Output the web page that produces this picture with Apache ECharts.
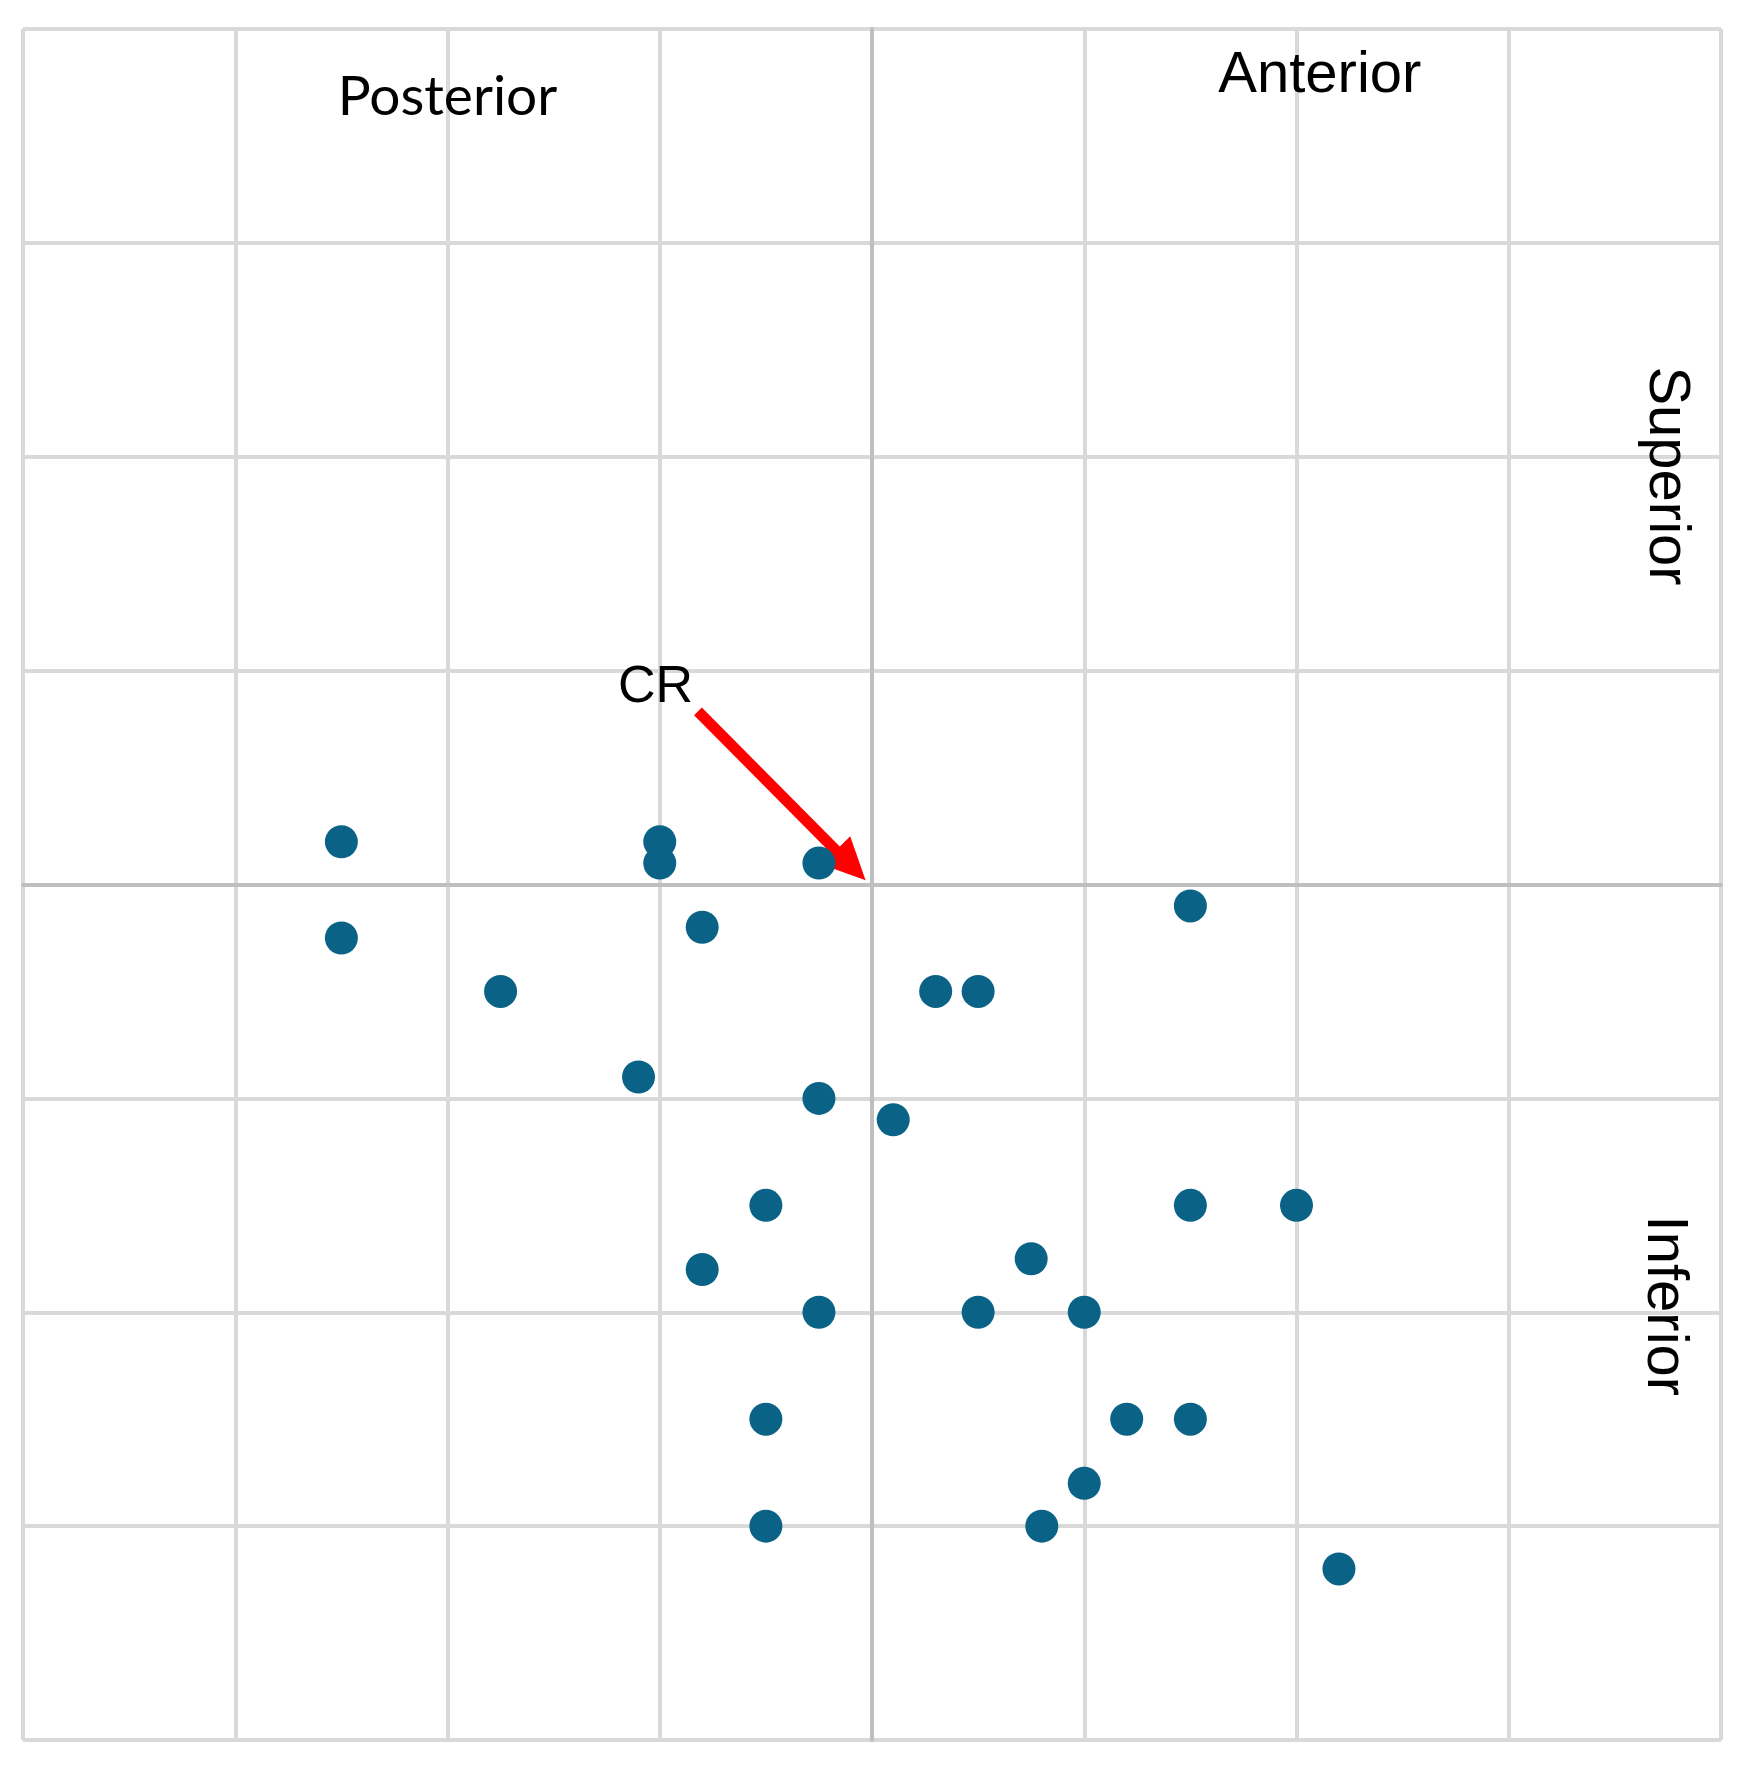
<!DOCTYPE html>
<html>
<head>
<meta charset="utf-8">
<script src="https://cdn.jsdelivr.net/npm/echarts@6/dist/echarts.min.js"></script>
<style>
html,body{margin:0;padding:0;background:#fff;}
#chart{width:1750px;height:1768px;}
</style>
</head>
<body>
<div id="chart"></div>
<script>
// Displacement points (x: posterior(-) / anterior(+), y: inferior(-) / superior(+))
const xValues = [-2.5, -1.0, -1.0, -0.25, -2.5, -0.8, -1.75, 0.3, 0.5, 1.5, -1.1, -0.25, 0.1, -0.5, 1.5, 2.0, -0.8, 0.75, -0.25, 0.5, 1.0, -0.5, 1.2, 1.5, 1.0, -0.5, 0.8, 2.2];
const yValues = [0.2, 0.2, 0.1, 0.1, -0.25, -0.2, -0.5, -0.5, -0.5, -0.1, -0.9, -1.0, -1.1, -1.5, -1.5, -1.5, -1.8, -1.75, -2.0, -2.0, -2.0, -2.5, -2.5, -2.5, -2.8, -3.0, -3.0, -3.2];

// Axis range
const axisMin = -4;
const axisMax = 4;
const axisStep = 1;

// Annotation texts and their anchor positions (data units)
const labelTexts = ['Posterior', 'Anterior', 'Superior', 'Inferior', 'CR'];
const labelX = [-2.0, 2.11, 3.74, 3.73, -1.02];
const labelY = [3.68, 3.78, 1.91, -1.97, 0.92];

// CR arrow (data units)
const arrowFrom = [-0.82, 0.81];
const arrowTo = [-0.1, 0.09];

const points = xValues.map((x, i) => [x, yValues[i]]);

const chart = echarts.init(document.getElementById('chart'), null, {renderer: 'canvas'});

const gridLine = {show: true, lineStyle: {color: '#d9d9d9', width: 4}};
const axisLine = {show: true, onZero: true, lineStyle: {color: '#bfbfbf', width: 4}};

chart.setOption({
  animation: false,
  backgroundColor: '#ffffff',
  grid: {left: 23, right: 29, top: 29, bottom: 28, containLabel: false},
  xAxis: {
    type: 'value', min: axisMin, max: axisMax, interval: axisStep,
    axisLine: axisLine, axisTick: {show: false}, axisLabel: {show: false},
    splitLine: gridLine
  },
  yAxis: {
    type: 'value', min: axisMin, max: axisMax, interval: axisStep,
    axisLine: axisLine, axisTick: {show: false}, axisLabel: {show: false},
    splitLine: gridLine
  },
  series: [{
    type: 'scatter',
    data: points,
    symbol: 'circle',
    symbolSize: 33,
    itemStyle: {color: '#0a6387', opacity: 1},
    z: 5,
    markLine: {
      silent: true,
      symbol: ['none', 'triangle'],
      symbolSize: [40, 42],
      lineStyle: {color: '#ff0000', width: 11, type: 'solid'},
      itemStyle: {color: '#ff0000'},
      label: {show: false},
      data: [[{coord: arrowFrom}, {coord: arrowTo}]]
    }
  }]
});

const fonts = ['Lato', 'Liberation Sans', 'Liberation Sans', 'Liberation Sans', 'Liberation Sans'];
const sizes = [55, 58, 58, 58, 52];
const rotations = [0, 0, -Math.PI / 2, -Math.PI / 2, 0];

const graphics = labelTexts.map((t, i) => {
  const p = chart.convertToPixel({gridIndex: 0}, [labelX[i], labelY[i]]);
  return {
    type: 'text',
    x: p[0], y: p[1],
    rotation: rotations[i],
    z: 20,
    style: {
      text: t,
      fill: '#000000',
      font: sizes[i] + 'px "' + fonts[i] + '", sans-serif',
      align: 'center',
      verticalAlign: 'middle'
    }
  };
});
chart.setOption({graphic: graphics});
</script>
</body>
</html>
